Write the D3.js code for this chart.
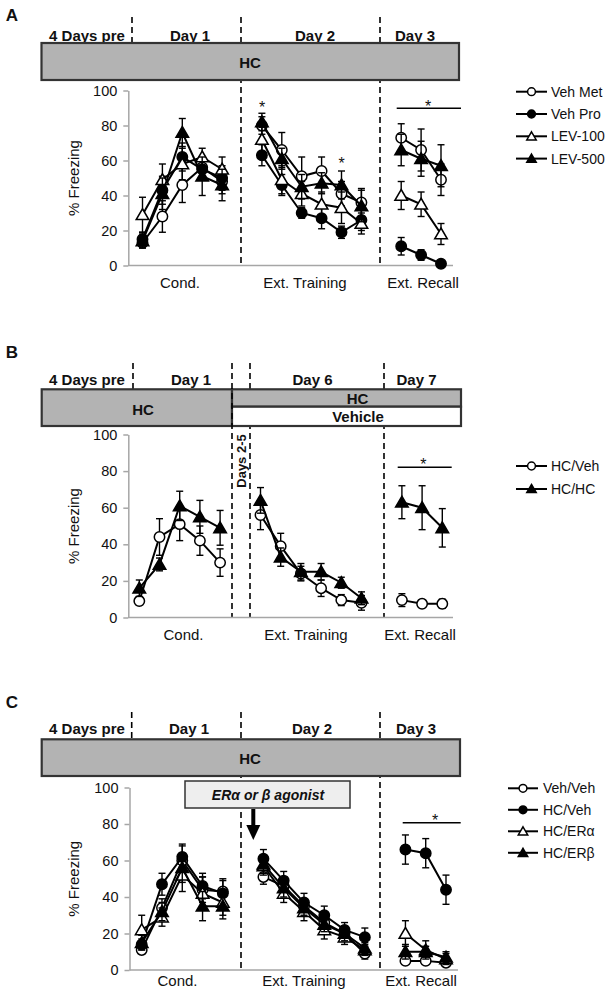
<!DOCTYPE html>
<html><head><meta charset="utf-8">
<script src="https://cdn.jsdelivr.net/npm/d3@7"></script>
<style>body{margin:0;background:#fff} svg{display:block;font-family:"Liberation Sans",Arial,sans-serif}</style>
</head><body><svg id="c" width="606" height="993"></svg>
<script>
// ---------- DATA ----------
const phases = ["Cond.", "Ext. Training", "Ext. Recall"];
const phaseSlots = [[0,1,2,3,4],[6,7,8,9,10,11],[13,14,15]];
const yTicks = [0,20,40,60,80,100];

// Panel A (Cond x5, Ext. Training x6, Ext. Recall x3)
const seriesA = ["Veh Met","Veh Pro","LEV-100","LEV-500"];
const vehMetMean = [13,28,46,56,48, 80,66,51,54,41,36, 73,66,49];
const vehMetErr  = [3,9,10,6,7,    5,10,11,8,7,8,     8,12,9];
const vehProMean = [15,43,62,55,50, 63,46,30,27,19,26, 11,6,1];
const vehProErr  = [4,8,8,6,7,     6,6,3,6,3.5,6,     5,3,1];
const lev100Mean = [29,49,58,62,55, 72,49,41,35,33,24, 40,35,18];
const lev100Err  = [10,9,9,5,7,    7,8,7,7,9,6,       8,7,6];
const lev500Mean = [14,41,76,51,46, 82,61,45,47,46,34, 66,61,57];
const lev500Err  = [4,9,8,11,9,    5,6,7,6,8,9,       9,10,12];

// Panel B
const seriesB = ["HC/Veh","HC/HC"];
const hcVehBMean = [9,44,51,42,30, 56,39,24,16,9.5,8, 9.5,7.5,7.5];
const hcVehBErr  = [2,10,9,8,7.5,  8,7,4,4.5,3,4,     3.5,2,2.5];
const hcHcMean   = [16,29,61,55,49, 64,33,25,25,19,10.5, 63,60,49];
const hcHcErr    = [4.5,3.5,8,9,9.5, 7,5,4.5,4.5,3,3.5, 9,12,10.5];

// Panel C
const seriesC = ["Veh/Veh","HC/Veh","HC/ERα","HC/ERβ"];
const vehVehMean = [11,34,60,44,43, 51,46,35,26,20,9, 5,5,4];
const vehVehErr  = [2,5,8,7,6,     4,4,4,4,3,3,      1.5,1.5,1.5];
const hcVehCMean = [14,47,62,46,42, 61,49,37,30,22,18, 66,64,44];
const hcVehCErr  = [3,6,7,7,8,     5,5,5,5,4,5,      8,8,8];
const hcEraMean  = [22,29,52,42,37, 57,42,32,22,18,11, 20,11,6];
const hcEraErr   = [8,5,9,9,7,     5,5,5,5,4,3,      7,5,3];
const hcErbMean  = [15,32,56,35,35, 58,45,34,25,20,12, 10,10,7];
const hcErbErr   = [4,5,8,8,7,     5,5,4,4,4,3,      4,3,3];

// ---------- DRAW ----------
const svg = d3.select("#c");
const GRAY = "#b3b3b3", AXIS = "#a6a6a6", TXT = "#111";
const mk = {
  oc:{shape:"circle",fill:"#fff"}, fc:{shape:"circle",fill:"#000"},
  ot:{shape:"tri",fill:"#fff"},    ft:{shape:"tri",fill:"#000"}
};

function marker(g, x, y, m, s){
  if(m.shape==="circle"){
    g.append("circle").attr("cx",x).attr("cy",y).attr("r",5.2*s)
     .attr("fill",m.fill).attr("stroke","#000").attr("stroke-width",1.5);
  } else {
    const w=6.3*s, t=6*s, b=4.8*s;
    g.append("path").attr("d",`M${x},${y-t}L${x+w},${y+b}L${x-w},${y+b}Z`)
     .attr("fill",m.fill).attr("stroke","#000").attr("stroke-width",1.5).attr("stroke-linejoin","miter");
  }
}

function txt(g, t, x, y, o={}){
  return g.append("text").attr("x",x).attr("y",y).attr("text-anchor",o.anchor||"middle")
    .attr("dominant-baseline","central").attr("font-size",o.size||15)
    .attr("font-weight",o.bold?"bold":"normal").attr("font-style",o.italic?"italic":"normal")
    .attr("fill",TXT).text(t);
}

function drawPanel(c){
  const g = svg.append("g");
  txt(g, c.label, 12, c.labelY, {size:17,bold:true});
  c.header.forEach(h=>txt(g, h[0], h[1], c.headerY, {bold:true}));
  // dashed dividers
  c.dashes.forEach(d=>g.append("line").attr("x1",d[0]).attr("x2",d[0]).attr("y1",d[1]).attr("y2",d[2])
     .attr("stroke","#000").attr("stroke-width",1.6).attr("stroke-dasharray","6,4"));
  // treatment boxes
  c.boxes.forEach(b=>{
    g.append("rect").attr("x",b.x).attr("y",b.y).attr("width",b.w).attr("height",b.h)
     .attr("fill",b.fill).attr("stroke","#333").attr("stroke-width",b.sw||2.2);
    txt(g, b.text, b.tx, b.ty, {bold:true, italic:!!b.italic, size:b.size||15});
  });
  (c.overDashes||[]).forEach(d=>g.append("line").attr("x1",d[0]).attr("x2",d[0]).attr("y1",d[1]).attr("y2",d[2])
     .attr("stroke","#000").attr("stroke-width",1.6).attr("stroke-dasharray","6,4"));

  const x = d3.scaleLinear().domain([0,15]).range(c.xRange);
  const y = d3.scaleLinear().domain([0,100]).range(c.yRange);

  // axes
  const ya = g.append("g").attr("transform",`translate(${c.axisX},0)`)
    .call(d3.axisLeft(y).tickValues(yTicks).tickSize(5).tickSizeOuter(0).tickPadding(6));
  ya.select(".domain").attr("stroke",AXIS).attr("stroke-width",1.5);
  ya.selectAll(".tick line").attr("stroke",AXIS).attr("stroke-width",1.5);
  ya.selectAll(".tick text").attr("font-size",14.5).attr("fill",TXT).attr("font-family","Liberation Sans, Arial, sans-serif");
  g.append("line").attr("x1",c.axisX).attr("x2",c.axisEnd).attr("y1",y(0)).attr("y2",y(0))
    .attr("stroke",AXIS).attr("stroke-width",1.5);
  phases.forEach((p,i)=>txt(g, p, c.phaseX[i], c.phaseY));
  txt(g, "% Freezing", 0, 0).attr("transform",`translate(73,${(c.yRange[0]+c.yRange[1])/2}) rotate(-90)`);

  // series
  const offs=[0,5,11];
  c.series.forEach(s=>{
    phaseSlots.forEach((slots,pi)=>{
      const pts = slots.map((sl,i)=>({x:x(sl), m:s.mean[offs[pi]+i], e:s.err[offs[pi]+i]}));
      pts.forEach(p=>{
        g.append("line").attr("x1",p.x).attr("x2",p.x).attr("y1",y(p.m-p.e)).attr("y2",y(Math.min(100,p.m+p.e)))
          .attr("stroke","#000").attr("stroke-width",1.4);
        [p.m-p.e, p.m+p.e].forEach(v=>g.append("line").attr("x1",p.x-3.5).attr("x2",p.x+3.5)
          .attr("y1",y(v)).attr("y2",y(v)).attr("stroke","#000").attr("stroke-width",1.4));
      });
      g.append("path").attr("d",d3.line().x(d=>d.x).y(d=>y(d.m))(pts))
        .attr("fill","none").attr("stroke","#000").attr("stroke-width",2);
      pts.forEach(p=>marker(g,p.x,y(p.m),s.m,1));
    });
  });

  // significance
  (c.stars||[]).forEach(st=>txt(g,"*",st[0],st[1]+4,{size:16}));
  if(c.bar){
    g.append("line").attr("x1",c.bar[0]).attr("x2",c.bar[1]).attr("y1",c.bar[2]).attr("y2",c.bar[2])
      .attr("stroke","#000").attr("stroke-width",1.5);
    txt(g,"*",c.bar[3],c.bar[4]+4,{size:16});
  }

  // legend
  c.series.forEach((s,i)=>{
    const ly = c.legend.y + i*c.legend.dy;
    g.append("line").attr("x1",c.legend.x1).attr("x2",c.legend.x2).attr("y1",ly).attr("y2",ly)
      .attr("stroke","#000").attr("stroke-width",2);
    marker(g,(c.legend.x1+c.legend.x2)/2,ly,s.m,0.75);
    txt(g,s.name,c.legend.tx,ly,{anchor:"start",size:14});
  });
  return g;
}

drawPanel({
  label:"A", labelY:15, headerY:35,
  header:[["4 Days pre",87],["Day 1",190],["Day 2",315],["Day 3",415]],
  dashes:[[132,17,43],[241,17,265.5],[380,17,265.5]],
  boxes:[{x:41.5,y:43,w:417.5,h:37,fill:GRAY,text:"HC",tx:250,ty:62}],
  xRange:[142.5,441], yRange:[265.5,90.5], axisX:128.3, axisEnd:453,
  phaseX:[180,305,423], phaseY:282,
  series:[
    {name:seriesA[0],mean:vehMetMean,err:vehMetErr,m:mk.oc},
    {name:seriesA[1],mean:vehProMean,err:vehProErr,m:mk.fc},
    {name:seriesA[2],mean:lev100Mean,err:lev100Err,m:mk.ot},
    {name:seriesA[3],mean:lev500Mean,err:lev500Err,m:mk.ft}],
  stars:[[262,103.3],[341.7,159.3]], bar:[396.7,461,108.3,428,102.7],
  legend:{x1:516,x2:547,tx:551,y:91.7,dy:22.3}
});

const gB = drawPanel({
  label:"B", labelY:352, headerY:379.5,
  header:[["4 Days pre",87],["Day 1",191],["Day 6",312.5],["Day 7",416.5]],
  dashes:[[133,363,389],[250,363,617.5],[384,363,617.5]],
  boxes:[
    {x:41.7,y:389.3,w:190.3,h:36.7,fill:GRAY,text:"HC",tx:143,ty:409},
    {x:232,y:389.3,w:229,h:17.4,fill:GRAY,text:"HC",tx:357.5,ty:398},
    {x:232,y:406.7,w:229,h:19.3,fill:"#fff",text:"Vehicle",tx:358,ty:416.5}],
  overDashes:[[232,363,617.5]],
  xRange:[139.3,442.3], yRange:[617.5,434.5], axisX:128.3, axisEnd:453,
  phaseX:[183.5,306,420], phaseY:634,
  series:[
    {name:seriesB[0],mean:hcVehBMean,err:hcVehBErr,m:mk.oc},
    {name:seriesB[1],mean:hcHcMean,err:hcHcErr,m:mk.ft}],
  bar:[397.7,451.7,467.3,423.3,460.7],
  legend:{x1:516,x2:547,tx:551,y:466,dy:23}
});
txt(gB,"Days 2-5",0,0,{bold:true,size:13}).attr("transform","translate(241.5,461) rotate(-90)");

const gC = drawPanel({
  label:"C", labelY:702, headerY:728.5,
  header:[["4 Days pre",87],["Day 1",189],["Day 2",312],["Day 3",416]],
  dashes:[[131.7,712,739.3],[241,712,970],[380,712,970]],
  boxes:[
    {x:41.7,y:739.3,w:418.3,h:36.7,fill:GRAY,text:"HC",tx:250,ty:758.5},
    {x:185,y:781,w:165,h:27,fill:"#eeeeee",text:"ERα or β agonist",tx:268,ty:795,italic:true,size:14,sw:1.5}],
  xRange:[141.7,446], yRange:[970,787.5], axisX:129.5, axisEnd:458,
  phaseX:[177.5,304,421], phaseY:980.5,
  series:[
    {name:seriesC[0],mean:vehVehMean,err:vehVehErr,m:mk.oc},
    {name:seriesC[1],mean:hcVehCMean,err:hcVehCErr,m:mk.fc},
    {name:seriesC[2],mean:hcEraMean,err:hcEraErr,m:mk.ot},
    {name:seriesC[3],mean:hcErbMean,err:hcErbErr,m:mk.ft}],
  bar:[402.7,460.7,822.7,435,816.7],
  legend:{x1:508,x2:538,tx:543,y:788.3,dy:21.5}
});
// arrow
gC.append("line").attr("x1",253.3).attr("x2",253.3).attr("y1",809).attr("y2",827)
  .attr("stroke","#000").attr("stroke-width",4);
gC.append("path").attr("d","M246.3,825L260.3,825L253.3,840Z").attr("fill","#000");
</script></body></html>
